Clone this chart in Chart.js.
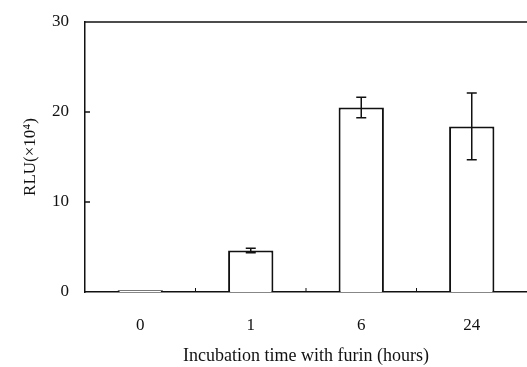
<!DOCTYPE html>
<html>
<head>
<meta charset="utf-8">
<script src="https://cdn.jsdelivr.net/npm/chart.js@4.4.0/dist/chart.umd.min.js"></script>
<style>
html,body{margin:0;padding:0;background:#fff;}
#wrap{width:527px;height:367px;}
</style>
</head>
<body>
<div id="wrap"><canvas id="c" width="527" height="367"></canvas></div>
<script>
const categories = ["0", "1", "6", "24"];
const values = [0.2, 4.6, 20.5, 18.4];
const errors = [0, 0.25, 1.15, 3.7];
const yTicks = [0, 10, 20, 30];
const xTitle = "Incubation time with furin (hours)";
const yTitle = "RLU(×10⁴)";

const FONT = "'Liberation Serif', 'DejaVu Serif', serif";

const decor = {
  id: 'decor',
  afterDatasetsDraw(chart) {
    const ctx = chart.ctx;
    const a = chart.chartArea;
    const xs = chart.scales.x, ys = chart.scales.y;
    ctx.save();
    ctx.strokeStyle = '#111';
    ctx.lineWidth = 1.5;
    ctx.beginPath();
    ctx.moveTo(a.left, a.top);
    ctx.lineTo(a.right, a.top);
    ctx.stroke();
    yTicks.forEach(v => {
      if (v === 0 || v === 30) return;
      const y = ys.getPixelForValue(v);
      ctx.beginPath();
      ctx.moveTo(a.left, y);
      ctx.lineTo(a.left + 5, y);
      ctx.stroke();
    });
    ctx.lineWidth = 1;
    for (let i = 1; i < categories.length; i++) {
      const x = (xs.getPixelForValue(i - 1) + xs.getPixelForValue(i)) / 2;
      ctx.beginPath();
      ctx.moveTo(x, a.bottom);
      ctx.lineTo(x, a.bottom - 4);
      ctx.stroke();
    }
    const meta = chart.getDatasetMeta(0);
    ctx.lineWidth = 1.5;
    meta.data.forEach((bar, i) => {
      const e = errors[i];
      if (!e) return;
      const x = bar.x;
      const yT = ys.getPixelForValue(values[i] + e);
      const yB = ys.getPixelForValue(values[i] - e);
      ctx.beginPath();
      ctx.moveTo(x, yT); ctx.lineTo(x, yB);
      ctx.moveTo(x - 5, yT); ctx.lineTo(x + 5, yT);
      ctx.moveTo(x - 5, yB); ctx.lineTo(x + 5, yB);
      ctx.stroke();
    });
    ctx.restore();
  }
};

new Chart(document.getElementById('c'), {
  type: 'bar',
  data: {
    labels: categories,
    datasets: [{
      data: values,
      backgroundColor: '#ffffff',
      borderColor: '#111',
      borderWidth: 2,
      barPercentage: 0.41,
      categoryPercentage: 1.0
    }]
  },
  options: {
    responsive: false,
    animation: false,
    devicePixelRatio: 1,
    layout: { padding: { left: 20, right: 0, top: 22, bottom: 0 } },
    plugins: { legend: { display: false }, tooltip: { enabled: false } },
    scales: {
      x: {
        grid: { display: false, drawTicks: false },
        border: { display: true, color: '#111', width: 1.5 },
        ticks: { color: '#111', font: { family: FONT, size: 17 }, padding: 23 },
        title: { display: true, text: xTitle, color: '#111', font: { family: FONT, size: 18, lineHeight: 1.0 }, padding: { top: 4, bottom: 2 } },
        afterFit(s) { s.height = 75; s.paddingLeft = 0; s.paddingRight = 0; }
      },
      y: {
        min: 0, max: 30,
        afterBuildTicks(s) { s.ticks = yTicks.map(v => ({ value: v })); },
        grid: { display: false, drawTicks: false },
        border: { display: true, color: '#111', width: 1.5 },
        ticks: { color: '#111', font: { family: FONT, size: 17 }, padding: 16 },
        title: { display: true, text: yTitle, color: '#111', font: { family: FONT, size: 17 }, padding: { top: 0, bottom: 0 } },
        afterFit(s) { s.width = 65; s.paddingTop = 0; s.paddingBottom = 0; }
      }
    }
  },
  plugins: [decor]
});
</script>
</body>
</html>
